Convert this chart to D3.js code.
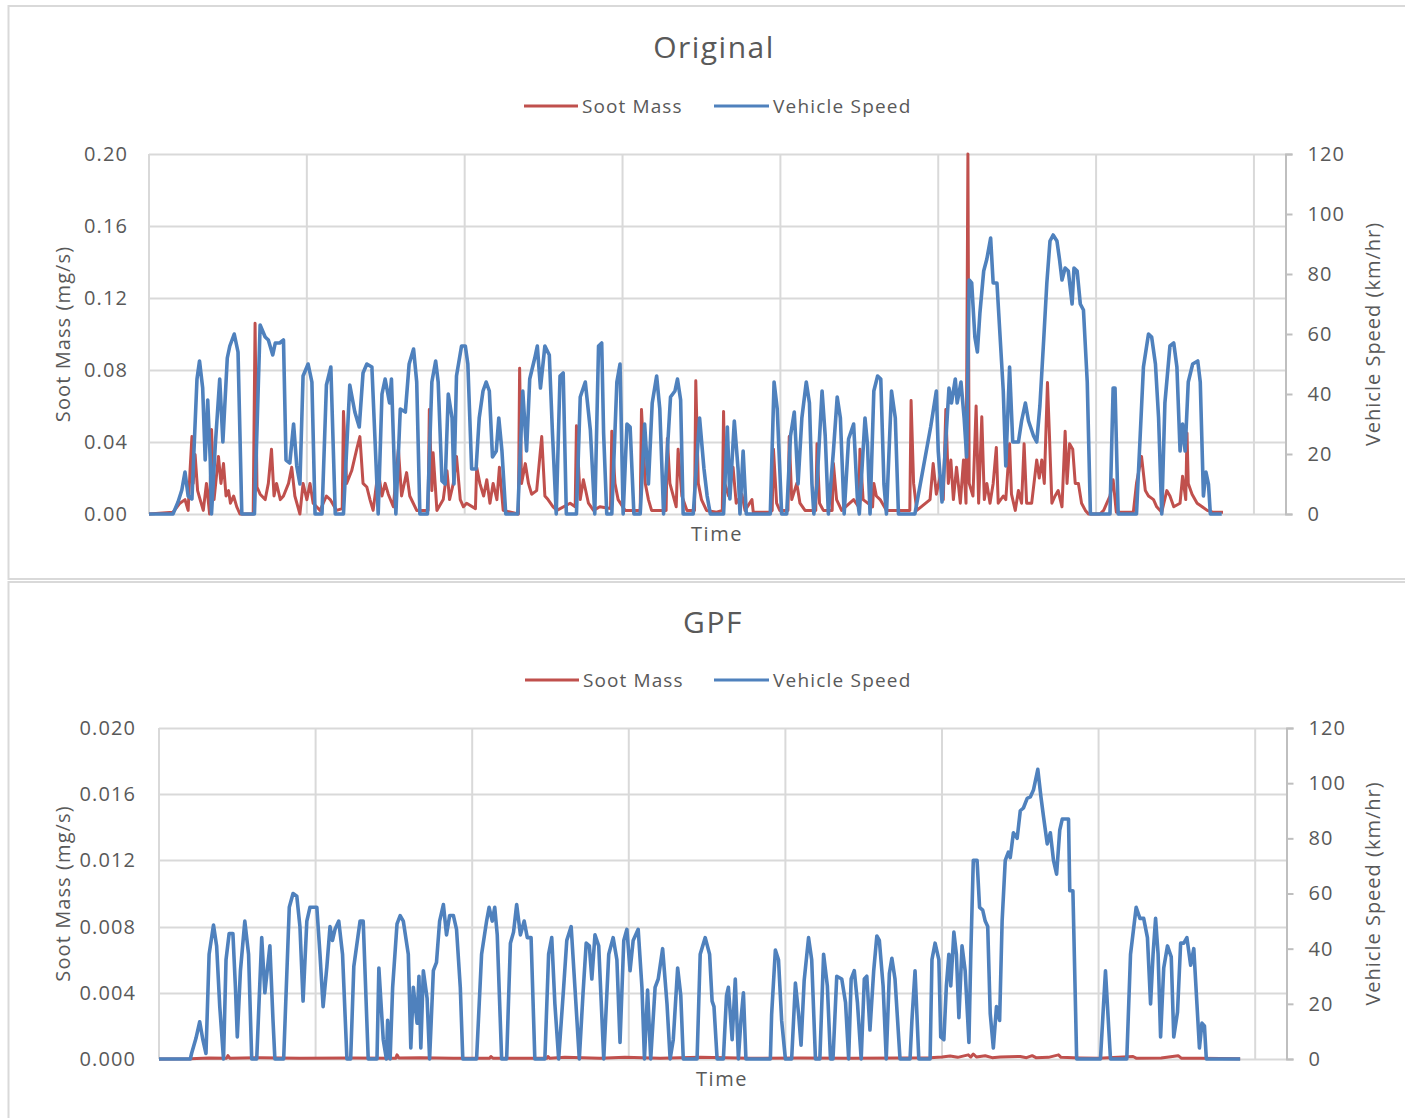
<!DOCTYPE html>
<html>
<head>
<meta charset="utf-8">
<script src="https://cdn.jsdelivr.net/npm/d3@7"></script>
<style>
  body { margin: 0; background: #fff; }
  text { font-family: "Open Sans", sans-serif; fill: #595959; }
</style>
</head>
<body>
<div id="chart"></div>
<script>
// ---- data (time in s, soot in mg/s, speed in km/h) ----
var timeTicks = [0, 250, 500, 750, 1000, 1250, 1500, 1750];
var speedTicks = [0, 20, 40, 60, 80, 100, 120];
var origSootTicks = [0, 0.04, 0.08, 0.12, 0.16, 0.20];
var gpfSootTicks = [0, 0.004, 0.008, 0.012, 0.016, 0.020];

var origSpeed = [[0,0],[38,0],[46,4],[52,8],[57,14],[62,6],[68,5],[76,45],[80,51],[85,42],[89,18],[93,38],[97,18],[99,0],[105,23],[112,45],[117,24],[124,52],[128,56],[135,60],[141,54],[147,0],[167,0],[176,63],[184,59],[189,58],[196,53],[200,57],[207,57],[213,58],[217,18],[223,17],[229,30],[234,16],[239,10],[244,46],[252,50],[258,44],[263,0],[274,0],[281,43],[288,49],[295,0],[308,0],[318,43],[326,34],[333,29],[339,47],[345,50],[353,49],[363,0],[369,40],[374,45],[381,37],[384,45],[391,0],[398,35],[406,34],[412,50],[419,55],[424,44],[429,0],[441,0],[448,44],[454,51],[458,44],[464,11],[469,10],[474,40],[480,32],[483,10],[487,46],[495,56],[501,56],[505,50],[511,15],[518,15],[523,32],[529,41],[534,44],[539,41],[544,19],[550,21],[554,32],[559,21],[565,0],[584,0],[592,41],[598,21],[603,45],[611,52],[615,56],[620,42],[627,56],[634,53],[639,27],[645,0],[651,46],[656,47],[661,0],[677,0],[683,39],[691,44],[699,28],[706,0],[712,56],[717,57],[720,27],[725,0],[733,0],[741,44],[746,50],[751,0],[757,30],[762,29],[768,0],[778,0],[785,30],[791,10],[797,37],[804,46],[809,35],[815,0],[826,39],[833,41],[837,45],[842,38],[846,0],[862,0],[872,32],[879,15],[884,6],[889,0],[910,0],[916,29],[920,5],[927,31],[933,15],[936,0],[941,21],[946,0],[984,0],[990,44],[995,35],[1002,0],[1010,0],[1016,26],[1022,34],[1028,10],[1034,32],[1041,44],[1046,37],[1050,10],[1053,0],[1058,10],[1066,41],[1071,26],[1076,0],[1084,21],[1090,39],[1095,32],[1101,0],[1108,25],[1116,30],[1122,5],[1125,0],[1134,32],[1138,23],[1142,0],[1148,41],[1154,46],[1159,45],[1164,10],[1168,0],[1176,41],[1182,32],[1187,0],[1213,0],[1238,29],[1247,41],[1250,21],[1256,4],[1261,21],[1267,42],[1271,37],[1277,45],[1280,37],[1286,44],[1291,32],[1295,19],[1299,78],[1303,77],[1308,59],[1312,54],[1316,67],[1322,81],[1327,85],[1333,92],[1337,77],[1343,77],[1348,59],[1353,41],[1357,16],[1363,49],[1368,24],[1372,24],[1377,24],[1382,31],[1388,37],[1393,31],[1401,26],[1406,24],[1411,36],[1417,58],[1422,77],[1427,91],[1432,93],[1438,91],[1442,85],[1446,78],[1451,82],[1456,81],[1462,70],[1465,82],[1470,81],[1475,70],[1480,68],[1486,44],[1491,0],[1522,0],[1527,42],[1530,42],[1535,0],[1564,0],[1575,49],[1583,60],[1588,59],[1594,50],[1599,32],[1604,0],[1609,37],[1617,56],[1623,57],[1628,49],[1633,21],[1637,30],[1641,21],[1646,44],[1653,50],[1661,51],[1665,44],[1670,6],[1674,14],[1678,10],[1681,0],[1699,0]];

var origSoot = [[0,0],[38,0.001],[49,0.006],[57,0.008],[62,0.002],[65,0.024],[68,0.043],[70,0.017],[73,0.033],[77,0.013],[81,0.008],[86,0.002],[91,0.017],[96,0],[99,0.047],[103,0.008],[110,0.032],[114,0.017],[118,0.028],[122,0.010],[126,0.013],[129,0.006],[134,0.010],[139,0.004],[144,0],[165,0],[168,0.106],[171,0.015],[176,0.011],[184,0.008],[189,0.017],[194,0.036],[198,0.010],[202,0.017],[208,0.008],[213,0.010],[221,0.017],[226,0.026],[231,0.010],[239,0],[244,0.017],[250,0.008],[255,0.017],[260,0.006],[271,0.002],[281,0.010],[287,0.008],[297,0.002],[306,0.003],[308,0.057],[313,0.017],[321,0.024],[329,0.036],[334,0.043],[339,0.017],[345,0.015],[350,0.008],[355,0.002],[363,0.024],[369,0.010],[374,0.017],[379,0.011],[387,0.004],[395,0.036],[400,0.010],[408,0.023],[413,0.010],[424,0.002],[432,0.002],[442,0.002],[444,0.058],[448,0.013],[450,0.034],[456,0.002],[466,0.008],[472,0.024],[476,0.008],[482,0.017],[487,0.032],[493,0.008],[498,0.004],[503,0.006],[517,0.003],[519,0.026],[524,0.017],[530,0.010],[535,0.019],[540,0.006],[545,0.017],[551,0.008],[555,0.026],[561,0.002],[585,0],[587,0.081],[590,0.017],[596,0.028],[601,0.017],[606,0.011],[614,0.013],[622,0.043],[627,0.010],[632,0.008],[640,0.004],[646,0.002],[667,0.006],[675,0.004],[677,0.049],[683,0.008],[688,0.019],[696,0.006],[704,0.002],[714,0.004],[731,0.003],[733,0.046],[738,0.017],[743,0.008],[754,0.002],[767,0.002],[778,0.002],[780,0.058],[786,0.017],[791,0.008],[796,0.002],[804,0.002],[819,0.002],[821,0.042],[825,0.017],[835,0.004],[838,0.036],[844,0.010],[852,0.002],[864,0.002],[866,0.074],[870,0.017],[875,0.008],[883,0.002],[899,0.001],[908,0.002],[910,0.057],[912,0.017],[918,0.010],[925,0.026],[930,0.006],[939,0.011],[944,0.002],[955,0.008],[957,0.001],[984,0.001],[987,0.002],[989,0.036],[994,0.006],[999,0.002],[1012,0.002],[1014,0.043],[1018,0.008],[1026,0.017],[1031,0.006],[1039,0.002],[1056,0.002],[1058,0.039],[1062,0.006],[1068,0.002],[1082,0.002],[1084,0.028],[1089,0.008],[1097,0.002],[1116,0.008],[1124,0.004],[1126,0.036],[1131,0.008],[1146,0.004],[1148,0.017],[1152,0.010],[1158,0.008],[1168,0.002],[1205,0.002],[1207,0.063],[1211,0.017],[1216,0.002],[1237,0.008],[1242,0.028],[1247,0.011],[1253,0.021],[1258,0.008],[1262,0.058],[1266,0.017],[1270,0.030],[1274,0.008],[1279,0.026],[1285,0.006],[1290,0.030],[1294,0.006],[1296,0.132],[1297,0.2],[1299,0.017],[1305,0.010],[1310,0.060],[1314,0.006],[1319,0.054],[1323,0.008],[1327,0.017],[1332,0.006],[1337,0.017],[1342,0.037],[1345,0.006],[1353,0.010],[1357,0.008],[1363,0.039],[1366,0.011],[1372,0.002],[1377,0.013],[1382,0.006],[1386,0.039],[1390,0.006],[1398,0.006],[1406,0.030],[1410,0.020],[1414,0.030],[1418,0.017],[1423,0.073],[1426,0.045],[1430,0.006],[1435,0.010],[1440,0.013],[1446,0.004],[1451,0.046],[1454,0.017],[1458,0.039],[1463,0.036],[1467,0.017],[1472,0.017],[1477,0.006],[1483,0.002],[1488,0],[1506,0],[1512,0.002],[1517,0.006],[1522,0.010],[1527,0.019],[1532,0.001],[1559,0.001],[1564,0.017],[1572,0.032],[1578,0.013],[1583,0.010],[1591,0.008],[1596,0.004],[1604,0.001],[1612,0.013],[1617,0.010],[1623,0.004],[1633,0.006],[1637,0.021],[1642,0.008],[1644,0.045],[1646,0.017],[1652,0.011],[1660,0.006],[1668,0.004],[1676,0.002],[1685,0.001],[1701,0.001]];

var gpfSpeed = [[0,0],[50,0],[52,2],[59,7.5],[65,13.5],[70,7],[75,2],[80,38],[87,48.6],[92,41],[97,19],[103,0],[107,36],[112,45.5],[118,45.5],[122,26],[125,8],[130,32],[137,50],[143,38],[148,0],[156,0],[164,44],[169,24],[177,41],[182,14],[185,0],[199,0],[208,55],[214,60],[220,59],[225,48],[230,21],[236,50],[241,55],[252,55],[257,38],[262,19],[268,33.5],[273,48],[277,43],[281,47],[287,50],[293,38],[300,0],[306,0],[311,33.5],[321,50],[326,50],[334,0],[348,0],[351,33],[358,7],[363,0],[365,14],[369,0],[373,26],[380,49],[385,52],[390,50],[398,38],[402,4],[406,26],[412,13],[415,30],[418,4],[422,32],[428,22],[432,0],[438,32],[443,35],[448,50],[454,56],[459,45],[464,52],[470,52],[475,47],[481,26],[485,0],[507,0],[515,38],[523,50],[527,55],[532,50],[536,55],[540,45],[547,0],[555,0],[561,42],[566,46],[571,56],[577,45],[583,50],[588,44],[594,44],[600,0],[616,0],[622,38],[627,44],[632,20],[638,0],[646,26],[651,43],[658,48],[664,26],[671,0],[677,24],[682,42],[687,41],[691,29],[696,45],[702,41],[710,0],[718,38],[725,44],[731,36],[736,6],[742,43],[747,47],[752,32],[757,43],[765,47],[771,26],[775,0],[780,25],[785,0],[792,26],[797,29],[804,40],[811,20],[816,0],[821,7],[828,33],[833,23],[837,0],[859,0],[864,38],[872,44],[879,38],[883,21],[886,19],[891,0],[901,0],[906,23],[909,26],[915,7],[920,29],[925,0],[929,14],[933,24],[937,0],[976,0],[978,16],[984,39.5],[989,36],[994,14],[1000,0],[1010,0],[1016,27.5],[1021,16.5],[1025,5],[1030,28.5],[1037,44],[1042,36],[1048,0],[1055,0],[1061,38],[1067,26.5],[1072,0],[1076,0],[1082,30],[1090,29],[1096,20.5],[1101,0],[1105,29],[1110,32],[1115,20.5],[1121,0],[1126,29],[1130,30],[1135,10.5],[1141,32],[1146,44.6],[1150,43],[1156,26.5],[1161,0],[1166,31],[1170,36.5],[1175,29],[1183,0],[1199,0],[1202,14],[1207,32],[1213,0],[1231,0],[1234,36],[1239,42],[1245,36],[1248,8],[1253,7],[1257,26.5],[1261,38],[1264,26.5],[1269,46],[1273,38],[1277,15],[1282,41],[1287,32],[1293,6],[1296,38],[1300,72],[1306,72],[1310,55],[1315,54],[1319,50],[1323,48],[1327,16.5],[1332,4],[1337,19],[1342,14],[1346,50],[1351,72],[1356,75],[1359,73],[1364,82],[1370,80],[1375,90],[1380,91],[1386,94.5],[1391,95],[1396,97.5],[1403,105],[1408,95],[1412,88],[1418,78],[1423,82],[1428,72],[1433,67],[1438,83],[1442,87],[1452,87],[1454,61],[1459,61],[1465,0],[1503,0],[1511,32],[1519,0],[1545,0],[1551,38],[1560,55],[1566,51],[1572,51],[1578,44],[1583,20],[1587,38],[1591,51],[1595,38],[1599,8],[1604,33],[1610,41],[1616,37],[1620,8],[1626,17],[1631,42],[1636,42],[1641,44],[1647,34],[1652,40],[1657,20],[1661,4],[1665,13],[1669,12],[1672,0],[1726,0]];

var gpfSoot = [[0,0],[50,0.00002],[80,0.00006],[108,0.00005],[110,0.0002],[113,0.00005],[161,0.00008],[225,0.00004],[305,0.00006],[378,0.00005],[380,0.00025],[383,0.00006],[417,0.00008],[470,0.00004],[528,0.00005],[530,0.00015],[533,0.00005],[619,0.00004],[621,0.00015],[624,0.00004],[648,0.0001],[704,0.00004],[744,0.0001],[800,0.00004],[864,0.0001],[944,0.00005],[1024,0.00006],[1104,0.00004],[1183,0.00006],[1231,0.00008],[1250,0.00012],[1263,0.00018],[1275,0.0001],[1292,0.00025],[1296,0.00012],[1300,0.0003],[1305,0.00012],[1319,0.0002],[1330,0.00008],[1343,0.00012],[1375,0.00015],[1385,0.00008],[1394,0.0002],[1400,0.00008],[1420,0.0001],[1436,0.00025],[1440,0.0001],[1471,0.00006],[1500,0.00004],[1555,0.00015],[1560,0.00005],[1600,0.00006],[1627,0.0002],[1632,0.00005],[1663,0.00004],[1726,0.00002]];

var red = "#C0504D", blue = "#4F81BD", grid = "#D9D9D9";

var svg = d3.select("#chart").append("svg")
    .attr("width", 1405)
    .attr("height", 1118);

// chart area frames
svg.append("rect").attr("x", 8.5).attr("y", 6).attr("width", 1410).attr("height", 573)
    .attr("fill", "none").attr("stroke", grid).attr("stroke-width", 2);
svg.append("rect").attr("x", 8.5).attr("y", 582).attr("width", 1410).attr("height", 560)
    .attr("fill", "none").attr("stroke", grid).attr("stroke-width", 2);

function drawPanel(p) {
    var x = d3.scaleLinear().domain([0, 1800]).range([p.left, p.right]);
    var yL = d3.scaleLinear().domain([0, p.sootMax]).range([p.bottom, p.top]);
    var yR = d3.scaleLinear().domain([0, 120]).range([p.bottom, p.top]);

    var g = svg.append("g");

    // gridlines
    g.selectAll(".hg").data(p.sootTicks).enter().append("line")
        .attr("x1", p.left).attr("x2", p.right)
        .attr("y1", function (d) { return Math.round(yL(d)) + 0.5; })
        .attr("y2", function (d) { return Math.round(yL(d)) + 0.5; })
        .attr("stroke", grid).attr("stroke-width", 2);
    g.selectAll(".vg").data(timeTicks).enter().append("line")
        .attr("x1", function (d) { return x(d); })
        .attr("x2", function (d) { return x(d); })
        .attr("y1", p.top).attr("y2", p.bottom)
        .attr("stroke", grid).attr("stroke-width", 2);

    // left axis labels
    var la = g.append("g").attr("transform", "translate(" + p.left + ",0)")
        .call(d3.axisLeft(yL).tickValues(p.sootTicks).tickFormat(d3.format(p.fmt))
            .tickSize(0).tickPadding(p.leftPad));
    la.select(".domain").remove();
    la.selectAll("text").style("font-size", "20px").style("font-family", "Open Sans")
        .style("letter-spacing", "1.1px").attr("fill", "#595959");

    // right axis
    var ra = g.append("g").attr("transform", "translate(" + p.right + ",0)")
        .call(d3.axisRight(yR).tickValues(speedTicks).tickSize(7).tickPadding(15));
    ra.select(".domain").attr("stroke", "#BFBFBF").attr("stroke-width", 2);
    ra.selectAll("line").attr("stroke", "#BFBFBF").attr("stroke-width", 2);
    ra.selectAll("text").style("font-size", "20px").style("font-family", "Open Sans")
        .style("letter-spacing", "1.1px").attr("fill", "#595959");

    // series
    var clipId = "clip" + p.id;
    svg.append("clipPath").attr("id", clipId).append("rect")
        .attr("x", p.left).attr("y", p.top - 2).attr("width", p.right - p.left).attr("height", p.bottom - p.top + 4);

    var lineL = d3.line().x(function (d) { return x(d[0]); }).y(function (d) { return yL(d[1]); });
    var lineR = d3.line().x(function (d) { return x(d[0]); }).y(function (d) { return yR(d[1]); });

    g.append("path").datum(p.soot).attr("clip-path", "url(#" + clipId + ")")
        .attr("d", lineL).attr("fill", "none").attr("stroke", red)
        .attr("stroke-width", 3).attr("stroke-linejoin", "round");
    g.append("path").datum(p.speed).attr("clip-path", "url(#" + clipId + ")")
        .attr("d", lineR).attr("fill", "none").attr("stroke", blue)
        .attr("stroke-width", 3.6).attr("stroke-linejoin", "round");

    // title
    g.append("text").attr("x", p.titleX).attr("y", p.titleY)
        .attr("text-anchor", "middle").style("font-size", "30px")
        .style("letter-spacing", "1.5px").text(p.title);

    // legend
    g.append("line").attr("x1", p.legRed).attr("x2", p.legRed + 54)
        .attr("y1", p.legY).attr("y2", p.legY).attr("stroke", red).attr("stroke-width", 3);
    g.append("text").attr("x", p.legRed + 58).attr("y", p.legY + 7)
        .style("font-size", "19px").style("letter-spacing", "1.1px").text("Soot Mass");
    g.append("line").attr("x1", 714).attr("x2", 769)
        .attr("y1", p.legY).attr("y2", p.legY).attr("stroke", blue).attr("stroke-width", 3);
    g.append("text").attr("x", 773).attr("y", p.legY + 7)
        .style("font-size", "19px").style("letter-spacing", "1.2px").text("Vehicle Speed");

    // axis titles
    var midY = (p.top + p.bottom) / 2;
    g.append("text").attr("transform", "translate(62," + midY + ") rotate(-90)")
        .attr("text-anchor", "middle").attr("dominant-baseline", "central")
        .style("font-size", "20px").style("letter-spacing", "1.1px").text("Soot Mass (mg/s)");
    g.append("text").attr("transform", "translate(1372," + midY + ") rotate(-90)")
        .attr("text-anchor", "middle").attr("dominant-baseline", "central")
        .style("font-size", "20px").style("letter-spacing", "1px").text("Vehicle Speed (km/hr)");
    g.append("text").attr("x", p.timeX).attr("y", p.timeY)
        .attr("text-anchor", "middle").style("font-size", "20px")
        .style("letter-spacing", "1.5px").text("Time");
}

drawPanel({
    id: 1, left: 149, right: 1285.5, top: 154, bottom: 514,
    sootMax: 0.2, sootTicks: origSootTicks, fmt: ".2f", leftPad: 21,
    soot: origSoot, speed: origSpeed,
    title: "Original", titleX: 714, titleY: 58,
    legY: 106, legRed: 524, timeX: 717, timeY: 541
});
drawPanel({
    id: 2, left: 159, right: 1286.5, top: 728, bottom: 1059,
    sootMax: 0.02, sootTicks: gpfSootTicks, fmt: ".3f", leftPad: 23,
    soot: gpfSoot, speed: gpfSpeed,
    title: "GPF", titleX: 713, titleY: 633,
    legY: 680, legRed: 525, timeX: 722, timeY: 1086
});
</script>
</body>
</html>
